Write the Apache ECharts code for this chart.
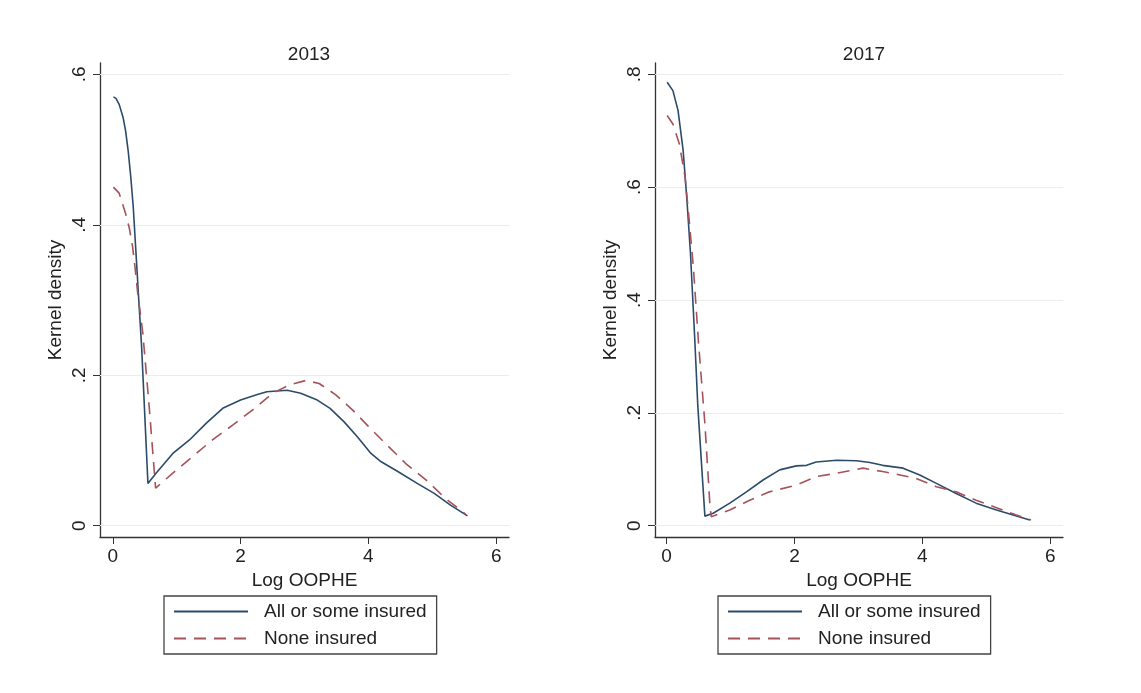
<!DOCTYPE html>
<html lang="en">
<head>
<meta charset="UTF-8" />
<title>Kernel density of Log OOPHE</title>
<script type="text/javascript" src="https://cdn.jsdelivr.net/npm/echarts@6/dist/echarts.min.js"></script>
<style>
    html, body { margin: 0; padding: 0; background: #fff; }
    #main { width: 1141px; height: 693px; }
</style>
</head>
<body>
<div id="main"></div>
<script type="text/javascript">
    // values (x = Log OOPHE, y = kernel density)
    var panelTitles = ['2013', '2017'];
    var seriesNames = ['All or some insured', 'None insured'];
    var xTicks = [0, 2, 4, 6];
    var yTicks2013 = [0, 0.2, 0.4, 0.6];
    var yTicks2017 = [0, 0.2, 0.4, 0.6, 0.8];

    var insX2013 = [0.01, 0.05, 0.1, 0.16, 0.2, 0.24, 0.28, 0.32, 0.37, 0.41, 0.45, 0.55, 0.68, 0.94, 1.2, 1.46, 1.72, 2.0, 2.25, 2.41, 2.73, 2.94, 3.2, 3.4, 3.62, 3.83, 4.04, 4.2, 4.46, 4.77, 5.03, 5.29, 5.55];
    var insY2013 = [0.570, 0.568, 0.560, 0.543, 0.525, 0.499, 0.465, 0.424, 0.353, 0.295, 0.240, 0.056, 0.070, 0.096, 0.114, 0.136, 0.156, 0.167, 0.174, 0.178, 0.180, 0.176, 0.167, 0.156, 0.138, 0.118, 0.096, 0.085, 0.072, 0.056, 0.043, 0.027, 0.013];
    var noneX2013 = [0.01, 0.1, 0.2, 0.26, 0.31, 0.35, 0.39, 0.43, 0.47, 0.57, 0.67, 0.94, 1.25, 1.56, 1.88, 2.19, 2.5, 2.76, 3.02, 3.23, 3.49, 3.75, 4.0, 4.27, 4.58, 4.9, 5.21, 5.47, 5.52];
    var noneY2013 = [0.450, 0.442, 0.415, 0.395, 0.371, 0.342, 0.309, 0.283, 0.256, 0.158, 0.050, 0.070, 0.092, 0.114, 0.134, 0.154, 0.176, 0.187, 0.193, 0.189, 0.174, 0.154, 0.132, 0.109, 0.083, 0.061, 0.036, 0.019, 0.015];

    var insX2017 = [0.01, 0.1, 0.18, 0.26, 0.32, 0.375, 0.44, 0.49, 0.6, 0.73, 0.99, 1.25, 1.51, 1.77, 2.03, 2.19, 2.34, 2.66, 2.97, 3.18, 3.38, 3.7, 3.96, 4.22, 4.53, 4.84, 5.16, 5.42, 5.68];
    var insY2017 = [0.786, 0.771, 0.736, 0.665, 0.576, 0.482, 0.335, 0.211, 0.017, 0.022, 0.040, 0.060, 0.081, 0.099, 0.106, 0.107, 0.113, 0.116, 0.115, 0.112, 0.107, 0.102, 0.090, 0.075, 0.057, 0.040, 0.028, 0.019, 0.010];
    var noneX2017 = [0.01, 0.1, 0.2, 0.29, 0.35, 0.42, 0.5, 0.6, 0.68, 0.7, 0.99, 1.3, 1.61, 2.03, 2.34, 2.66, 3.07, 3.38, 3.65, 3.9, 4.22, 4.53, 4.84, 5.16, 5.47, 5.7];
    var noneY2017 = [0.727, 0.712, 0.677, 0.618, 0.547, 0.458, 0.325, 0.181, 0.034, 0.016, 0.028, 0.045, 0.060, 0.072, 0.087, 0.093, 0.102, 0.096, 0.090, 0.084, 0.069, 0.060, 0.045, 0.032, 0.019, 0.010];

    var blue = '#2b4b6b';
    var red = '#a5525b';
    var axisColor = '#333';
    var font = 'Liberation Sans, Arial, sans-serif';

    function pairs(xs, ys) {
        var out = [];
        for (var i = 0; i < xs.length; i++) {
            out.push([xs[i], ys[i]]);
        }
        return out;
    }

    function tickText(v) {
        return v === 0 ? '0' : String(v).replace(/^0/, '');
    }

    function makeX(gridIndex, min) {
        return {
            type: 'value', gridIndex: gridIndex, min: min, max: 6.2,
            name: 'Log OOPHE', nameLocation: 'middle', nameGap: 30,
            nameTextStyle: { fontSize: 19, color: '#222', fontFamily: font },
            axisLine: { onZero: false, lineStyle: { color: axisColor, width: 1.3 } },
            axisTick: { length: 7, customValues: xTicks, lineStyle: { color: axisColor } },
            axisLabel: { customValues: xTicks, margin: 10, fontSize: 19, color: '#222', fontFamily: font, formatter: tickText },
            splitLine: { show: false }
        };
    }

    function makeY(gridIndex, min, max, ticks) {
        return {
            type: 'value', gridIndex: gridIndex, min: min, max: max,
            name: 'Kernel density', nameLocation: 'middle', nameGap: 35,
            nameTextStyle: { fontSize: 19, color: '#222', fontFamily: font },
            axisLine: { show: true, onZero: false, lineStyle: { color: axisColor, width: 1.3 } },
            axisTick: { show: true, length: 7, customValues: ticks, lineStyle: { color: axisColor } },
            axisLabel: { customValues: ticks, rotate: 90, margin: 11, fontSize: 19, color: '#222', fontFamily: font, formatter: tickText },
            splitLine: { show: false }
        };
    }

    // 横向网格线，用 markLine 画在刻度位置
    function gridLines(ticks) {
        return {
            silent: true, symbol: 'none', label: { show: false },
            lineStyle: { color: '#ececec', type: 'solid', width: 1 },
            data: ticks.map(function (v) { return { yAxis: v }; })
        };
    }

    function makeLine(name, idx, data, color, dashed, ticks) {
        var s = {
            name: name, type: 'line', xAxisIndex: idx, yAxisIndex: idx,
            data: data, symbol: 'none', animation: false, z: 3,
            lineStyle: { color: color, width: 1.6, type: dashed ? [12, 8] : 'solid' },
            itemStyle: { color: color }
        };
        if (ticks) {
            s.markLine = gridLines(ticks);
            s.markLine.z = 1;
        }
        return s;
    }

    function makeLegend(left) {
        return {
            data: seriesNames, orient: 'vertical', left: left, top: 596,
            width: 282, itemWidth: 74, itemHeight: 14, itemGap: 8,
            padding: [6, 10, 6, 9],
            borderColor: '#444', borderWidth: 1.3, borderRadius: 0,
            itemStyle: { color: 'transparent', borderColor: 'transparent', borderWidth: 0, opacity: 0 },
            textStyle: { fontSize: 19, color: '#222', fontFamily: font, padding: [0, 0, 0, 11] },
            selectedMode: false
        };
    }

    var myChart = echarts.init(document.getElementById('main'));

    var options = {
        backgroundColor: '#fff',
        animation: false,
        title: [
            { text: panelTitles[0], left: 304, top: 40, textAlign: 'center', textStyle: { fontSize: 19, fontWeight: 'normal', color: '#222', fontFamily: font } },
            { text: panelTitles[1], left: 859, top: 40, textAlign: 'center', textStyle: { fontSize: 19, fontWeight: 'normal', color: '#222', fontFamily: font } }
        ],
        grid: [
            { left: 100, top: 63, width: 409, height: 474 },
            { left: 655, top: 63, width: 408, height: 474 }
        ],
        legend: [makeLegend(164), makeLegend(718)],
        xAxis: [makeX(0, -0.2), makeX(1, -0.18)],
        yAxis: [makeY(0, -0.015, 0.615, yTicks2013), makeY(1, -0.02, 0.82, yTicks2017)],
        series: [
            makeLine(seriesNames[0], 0, pairs(insX2013, insY2013), blue, false, yTicks2013),
            makeLine(seriesNames[1], 0, pairs(noneX2013, noneY2013), red, true),
            makeLine(seriesNames[0], 1, pairs(insX2017, insY2017), blue, false, yTicks2017),
            makeLine(seriesNames[1], 1, pairs(noneX2017, noneY2017), red, true)
        ]
    };

    myChart.setOption(options);
</script>
</body>
</html>
